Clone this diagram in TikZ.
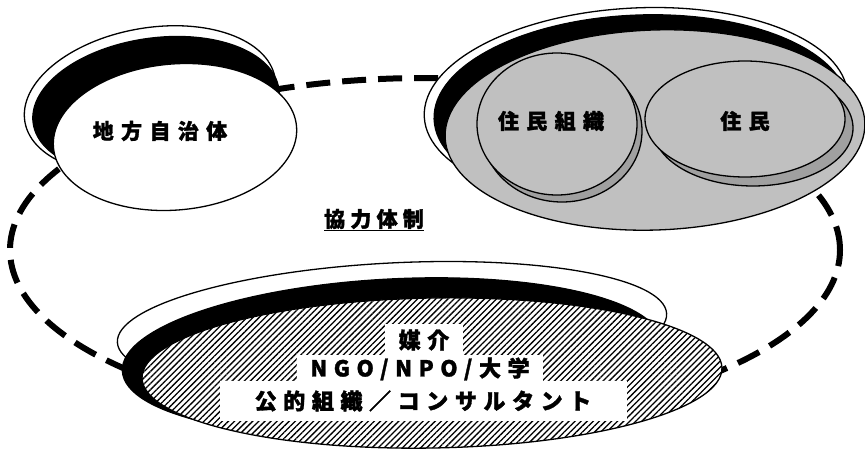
\documentclass[tikz,border=0pt]{standalone}
\usepackage{fontspec}
\setmainfont{Noto Sans CJK JP}[BoldFeatures={FakeBold=1.5}]
\usetikzlibrary{shapes.geometric,patterns.meta}
\definecolor{grayfill}{HTML}{C0C0C0}
\definecolor{grayshade}{HTML}{A0A0A0}
\begin{document}
\begin{tikzpicture}[x=1pt,y=-1pt,
  oval/.style={ellipse, draw=black, line width=1.3pt, inner sep=0pt, fill=white},
  blackoval/.style={ellipse, draw=black, line width=1.3pt, inner sep=0pt, fill=black},
  grayoval/.style={ellipse, draw=black, line width=1.3pt, inner sep=0pt, fill=grayfill},
  shadeoval/.style={ellipse, draw=black, line width=1.3pt, inner sep=0pt, fill=grayshade},
  hatchoval/.style={ellipse, draw=black, line width=1.3pt, inner sep=0pt,
    preaction={fill=white}, pattern={Lines[angle=45,distance=4.3pt,line width=1.3pt]}},
  lbl/.style={font=\fontsize{21}{23}\selectfont\bfseries\addfontfeatures{LetterSpace=35}, inner sep=0pt},
  boxlbl/.style={font=\fontsize{22}{24}\selectfont\bfseries\addfontfeatures{LetterSpace=30}, fill=white, inner sep=0pt}
]
\useasboundingbox (0,0) rectangle (865,455);
\fill[white] (0,0) rectangle (865,455);

% dashed cooperation ellipse
\node[ellipse, draw=black, line width=6pt, dash pattern=on 24pt off 12pt,
      minimum width=830, minimum height=344, inner sep=0pt] (coop) at (425,250) {};

% left group: local government
\node[oval, minimum width=254, minimum height=144, rotate=10] (lgback) at (150,100) {};
\node[blackoval, minimum width=248, minimum height=136, rotate=8] (lgblack) at (156,106) {};
\node[oval, minimum width=244, minimum height=146, rotate=5] (lg) at (175,137) {};
\node[lbl] (lgtxt) at (160,131) {地方自治体};

% right group: residents
\node[oval, minimum width=424, minimum height=196, rotate=3] (rgback) at (636,106) {};
\node[blackoval, minimum width=414, minimum height=194, rotate=2] (rgblack) at (641,112) {};
\node[grayoval, minimum width=420, minimum height=200, rotate=2] (rg) at (655,130) {};
\node[shadeoval, minimum width=160, minimum height=142] (orgsh) at (562,131) {};
\node[grayoval, minimum width=160, minimum height=142] (org) at (557,124) {};
\node[shadeoval, minimum width=200, minimum height=116] (ressh) at (753,128) {};
\node[grayoval, minimum width=200, minimum height=116] (res) at (745,119) {};
\node[lbl] (orgtxt) at (551,121) {住民組織};
\node[lbl] (restxt) at (745,121) {住民};

% cooperation label
\node[font=\fontsize{21}{23}\selectfont\bfseries\addfontfeatures{LetterSpace=25}, inner sep=0pt] (cooptxt) at (374,220) {\underline{協力体制}};

% bottom group: mediators
\node[oval, minimum width=550, minimum height=130, rotate=3] (mdback) at (392,328) {};
\node[blackoval, minimum width=540, minimum height=156, rotate=3] (mdblack) at (392,357) {};
\node[hatchoval, minimum width=580, minimum height=150, rotate=1] (md) at (432,373) {};
\node[boxlbl, minimum width=407, minimum height=40] (md3) at (423,401) {公的組織／コンサルタント};
\node[boxlbl, minimum width=246, minimum height=28] (md2) at (420,369) {NGO/NPO/大学};
\node[boxlbl, minimum width=78, minimum height=32] (md1) at (424,340) {媒介};
\end{tikzpicture}
\end{document}
